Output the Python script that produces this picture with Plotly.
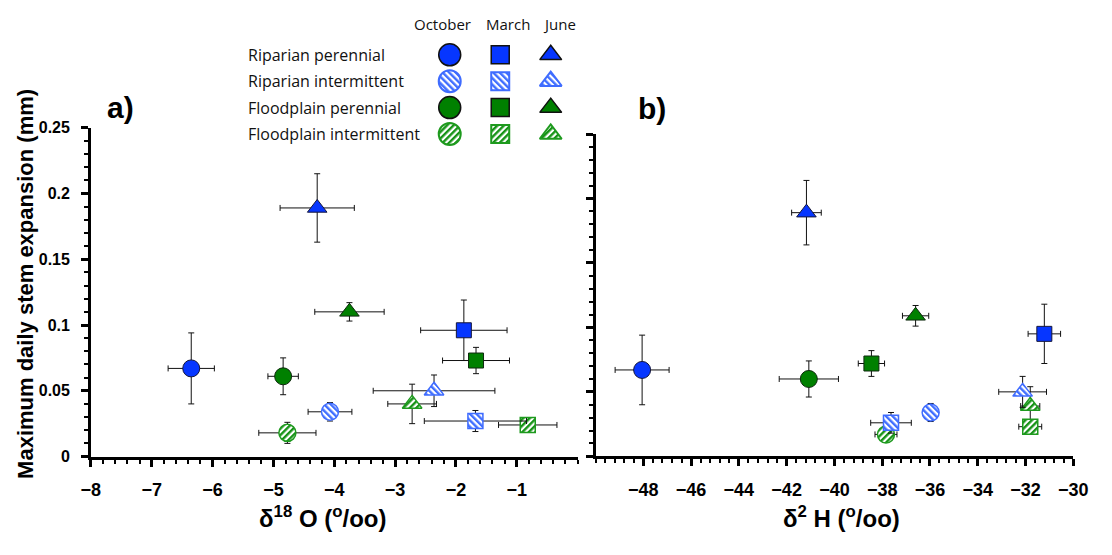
import plotly.graph_objects as go

# ---------------- data ----------------
groups = ["Riparian perennial", "Riparian intermittent", "Floodplain perennial", "Floodplain intermittent"]
months = ["October", "March", "June"]
symbols = ["circle", "square", "triangle-up"]

# panel a: delta 18O
o18_rp = [-6.35, -1.87, -4.28]
o18_ri = [-4.07, -1.68, -2.36]
o18_fp = [-4.84, -1.67, -3.75]
o18_fi = [-4.77, -0.82, -2.72]
o18_rp_err = [0.38, 0.71, 0.61]
o18_ri_err = [0.36, 0.84, 1.00]
o18_fp_err = [0.25, 0.55, 0.57]
o18_fi_err = [0.47, 0.48, 0.40]
exp_a_rp = [0.067, 0.096, 0.189]
exp_a_ri = [0.034, 0.027, 0.050]
exp_a_fp = [0.061, 0.073, 0.110]
exp_a_fi = [0.018, 0.024, 0.040]
exp_a_rp_err = [0.027, 0.023, 0.026]
exp_a_ri_err = [0.007, 0.008, 0.012]
exp_a_fp_err = [0.014, 0.010, 0.007]
exp_a_fi_err = [0.008, 0.003, 0.015]

# panel b: delta 2H
h2_rp = [-48.05, -31.21, -41.17]
h2_ri = [-35.97, -37.63, -32.12]
h2_fp = [-41.07, -38.45, -36.60]
h2_fi = [-37.84, -31.80, -31.80]
h2_rp_err = [1.13, 0.68, 0.62]
h2_ri_err = [0.30, 0.85, 1.00]
h2_fp_err = [1.24, 0.55, 0.55]
h2_fi_err = [0.46, 0.48, 0.40]
exp_b_rp = [0.067, 0.095, 0.189]
exp_b_ri = [0.034, 0.026, 0.050]
exp_b_fp = [0.060, 0.072, 0.109]
exp_b_fi = [0.017, 0.023, 0.039]
exp_b_rp_err = [0.027, 0.023, 0.025]
exp_b_ri_err = [0.007, 0.008, 0.012]
exp_b_fp_err = [0.014, 0.010, 0.008]
exp_b_fi_err = [0.004, 0.004, 0.015]

xa_major = [-8, -7, -6, -5, -4, -3, -2, -1, 0]
xa_labelled = [-8, -7, -6, -5, -4, -3, -2, -1]
xb_major = [-50, -48, -46, -44, -42, -40, -38, -36, -34, -32, -30]
xb_labelled = [-48, -46, -44, -42, -40, -38, -36, -34, -32, -30]
y_ticks = [0, 0.05, 0.1, 0.15, 0.2, 0.25]

# ---------------- styles ----------------
styles = {
    "Riparian perennial": dict(fill="#0636FF", line="#15163a", lw=1, meta="solid"),
    "Riparian intermittent": dict(fill="#A9BEFF", line="#3F6CFF", lw=1.5, meta="hatchB"),
    "Floodplain perennial": dict(fill="#008000", line="#0f2a0f", lw=1, meta="solid"),
    "Floodplain intermittent": dict(fill="#9BD39B", line="#1E9A1E", lw=1.5, meta="hatchG"),
}

panel_a = {
    "Riparian perennial": (o18_rp, exp_a_rp, o18_rp_err, exp_a_rp_err),
    "Riparian intermittent": (o18_ri, exp_a_ri, o18_ri_err, exp_a_ri_err),
    "Floodplain perennial": (o18_fp, exp_a_fp, o18_fp_err, exp_a_fp_err),
    "Floodplain intermittent": (o18_fi, exp_a_fi, o18_fi_err, exp_a_fi_err),
}
panel_b = {
    "Riparian perennial": (h2_rp, exp_b_rp, h2_rp_err, exp_b_rp_err),
    "Riparian intermittent": (h2_ri, exp_b_ri, h2_ri_err, exp_b_ri_err),
    "Floodplain perennial": (h2_fp, exp_b_fp, h2_fp_err, exp_b_fp_err),
    "Floodplain intermittent": (h2_fi, exp_b_fi, h2_fi_err, exp_b_fi_err),
}

plot_sizes = [17, 15, 17]
legend_sizes = [22, 18, 19]

fig = go.Figure()

draw_order = ["Floodplain intermittent", "Riparian intermittent", "Floodplain perennial", "Riparian perennial"]
for panel, xa, ya in [(panel_a, "x", "y"), (panel_b, "x2", "y2")]:
    for g in draw_order:
        xs, ys, exs, eys = panel[g]
        st = styles[g]
        fig.add_trace(go.Scatter(
            x=xs, y=ys, mode="markers", name=g, meta=st["meta"],
            xaxis=xa, yaxis=ya, cliponaxis=False, showlegend=False,
            text=months, hovertemplate="%{text}: %{x}, %{y}<extra>" + g + "</extra>",
            marker=dict(symbol=symbols, size=plot_sizes, color=st["fill"], opacity=1,
                        line=dict(color=st["line"], width=st["lw"])),
            error_x=dict(type="data", array=exs, color="#111111", thickness=1, width=3),
            error_y=dict(type="data", array=eys, color="#111111", thickness=1, width=3),
        ))

# legend grid drawn on a hidden axis pair
for i, g in enumerate(groups):
    st = styles[g]
    fig.add_trace(go.Scatter(
        x=list(range(len(months))), y=[i] * len(months), mode="markers", name=g,
        meta=st["meta"], xaxis="x3", yaxis="y3", showlegend=False, hoverinfo="skip",
        cliponaxis=False,
        marker=dict(symbol=symbols, size=legend_sizes, color=st["fill"], opacity=1,
                    line=dict(color=st["line"] if st["meta"] != "solid" else "#111111",
                              width=st["lw"] + 0.5)),
    ))

tick_font_x = dict(family="Liberation Sans, Arial, sans-serif", size=18, color="black", weight="bold")
tick_font_y = dict(family="Liberation Sans, Arial, sans-serif", size=16, color="black", weight="bold")

def xaxis_main(domain, rng, tv, minor_dt):
    return dict(domain=domain, range=rng, tickvals=tv, showline=True,
                linecolor="black", linewidth=3, ticks="outside", ticklen=7, tickwidth=2.5,
                tickcolor="black", tickfont=tick_font_x, showgrid=False, zeroline=False,
                ticklabelstandoff=8,
                minor=dict(dtick=minor_dt, ticks="outside", ticklen=4, tickwidth=1.5,
                           tickcolor="black", showgrid=False),
                fixedrange=True)

def yaxis_main(domain, show_labels):
    return dict(domain=domain, range=[0, 0.25], tickvals=y_ticks, showline=True,
                linecolor="black", linewidth=2.5, ticks="outside", ticklen=7, tickwidth=2.5,
                tickcolor="black", tickfont=tick_font_y, showticklabels=show_labels,
                showgrid=False, zeroline=False, ticklabelstandoff=8,
                minor=dict(dtick=0.01, ticks="outside", ticklen=4, tickwidth=1.5,
                           tickcolor="black", showgrid=False),
                fixedrange=True)

def tick_overlay(over, anchor, rng, tv, side):
    return dict(overlaying=over, anchor=anchor, range=rng, tickvals=tv, ticks=side,
                ticklen=7, tickwidth=2.5, tickcolor="black", showticklabels=False,
                showline=False, showgrid=False, zeroline=False, fixedrange=True)

xa_dom = [82.7 / 1112, 580.7 / 1112]
ya_dom = [(555 - 462.7) / 555, (555 - 123.5) / 555]
xb_dom = [599.0 / 1112, 1087.7 / 1112]
yb_dom = [(555 - 462.5) / 555, (555 - 130.0) / 555]

fig.update_layout(
    width=1112, height=555, margin=dict(l=0, r=0, t=0, b=0),
    paper_bgcolor="white", plot_bgcolor="white", showlegend=False,
    xaxis=xaxis_main(xa_dom, [-8, 0], xa_labelled, 0.2) | dict(anchor="y"),
    yaxis=yaxis_main(ya_dom, True) | dict(anchor="x"),
    xaxis2=xaxis_main(xb_dom, [-50, -30], xb_labelled, 0.4) | dict(anchor="y2"),
    yaxis2=yaxis_main(yb_dom, False) | dict(anchor="x2"),
    xaxis3=dict(domain=[424 / 1112, 579 / 1112], range=[-0.5, 2.5], visible=False, anchor="y3", fixedrange=True),
    yaxis3=dict(domain=[(555 - 143.6) / 555, (555 - 34.7) / 555], range=[3.5, -0.5], visible=False, anchor="x3", fixedrange=True),
    # overlay axes: major ticks crossing the axis lines (including unlabelled end ticks)
    xaxis4=tick_overlay("x", "y", [-8, 0], xa_major, "inside"),
    xaxis5=tick_overlay("x2", "y2", [-50, -30], xb_major, "inside"),
    xaxis6=tick_overlay("x", "y", [-8, 0], xa_major, "outside"),
    xaxis7=tick_overlay("x2", "y2", [-50, -30], xb_major, "outside"),
    yaxis4=tick_overlay("y", "x", [0, 0.25], y_ticks, "inside"),
    yaxis5=tick_overlay("y2", "x2", [0, 0.25], y_ticks, "inside"),
)

ann = []
row_font = dict(family="Open Sans, sans-serif", size=16, color="#111111")
head_font = dict(family="Open Sans, sans-serif", size=15, color="#111111")
for i, g in enumerate(groups):
    ann.append(dict(text=g, xref="paper", yref="y3", x=241 / 1112, y=i,
                    xanchor="left", yanchor="middle", showarrow=False, font=row_font))
for j, (m, sh) in enumerate(zip(months, [-7, 8, 9])):
    ann.append(dict(text=m, xref="x3", yref="paper", x=j, y=(555 - 16) / 555, xshift=sh,
                    xanchor="center", yanchor="middle", showarrow=False, font=head_font))

bold = dict(family="Liberation Sans, Arial, sans-serif", color="black", weight="bold")
center = dict(xanchor="center", yanchor="middle", showarrow=False, xref="paper", yref="paper")
ann.append(dict(text="a)", x=113 / 1112, y=(555 - 103) / 555, font=bold | dict(size=30)) | center)
ann.append(dict(text="b)", x=657 / 1112, y=(555 - 104) / 555, font=bold | dict(size=30)) | center)
ann.append(dict(text="δ<sup>18</sup> O (<sup>o</sup>/oo)", x=320 / 1112, y=(555 - 525) / 555,
                font=bold | dict(size=24)) | center)
ann.append(dict(text="δ<sup>2</sup> H (<sup>o</sup>/oo)", x=851 / 1112, y=(555 - 525) / 555,
                font=bold | dict(size=24)) | center)
ann.append(dict(text="Maximum daily stem expansion (mm)", x=16 / 1112, y=(555 - 285) / 555,
                textangle=-90, font=bold | dict(size=22)) | center)
fig.update_layout(annotations=ann)

hatch_js = r"""
var gd = document.getElementById('{plot_id}');
function applyHatch(){
  var svg = gd.querySelector('svg.main-svg');
  if(!svg) return;
  var ns = 'http://www.w3.org/2000/svg';
  var defs = svg.querySelector('defs');
  if(!defs){ defs = document.createElementNS(ns,'defs'); svg.insertBefore(defs, svg.firstChild); }
  function mk(id, col, rot){
    if(document.getElementById(id)) return;
    var p = document.createElementNS(ns,'pattern');
    p.setAttribute('id', id);
    p.setAttribute('patternUnits','userSpaceOnUse');
    p.setAttribute('width','4.6'); p.setAttribute('height','4.6');
    p.setAttribute('patternTransform','rotate(' + rot + ')');
    var r1 = document.createElementNS(ns,'rect');
    r1.setAttribute('width','4.6'); r1.setAttribute('height','4.6'); r1.setAttribute('fill','#ffffff');
    var r2 = document.createElementNS(ns,'rect');
    r2.setAttribute('width','2.4'); r2.setAttribute('height','4.6'); r2.setAttribute('fill', col);
    p.appendChild(r1); p.appendChild(r2); defs.appendChild(p);
  }
  mk('hatchB', '#3F6EFF', -45);
  mk('hatchG', '#169316', 45);
  gd.querySelectorAll('g.trace.scatter').forEach(function(g){
    var d = g.__data__;
    if(!d || !d[0] || !d[0].trace) return;
    var m = d[0].trace.meta;
    if(m !== 'hatchB' && m !== 'hatchG') return;
    g.querySelectorAll('path.point').forEach(function(pt){ pt.style.fill = 'url(#' + m + ')'; });
  });
}
applyHatch();
if (gd.on) { gd.on('plotly_afterplot', applyHatch); }
"""

fig.write_html("out.html", post_script=hatch_js, config={"displayModeBar": False, "responsive": False})
